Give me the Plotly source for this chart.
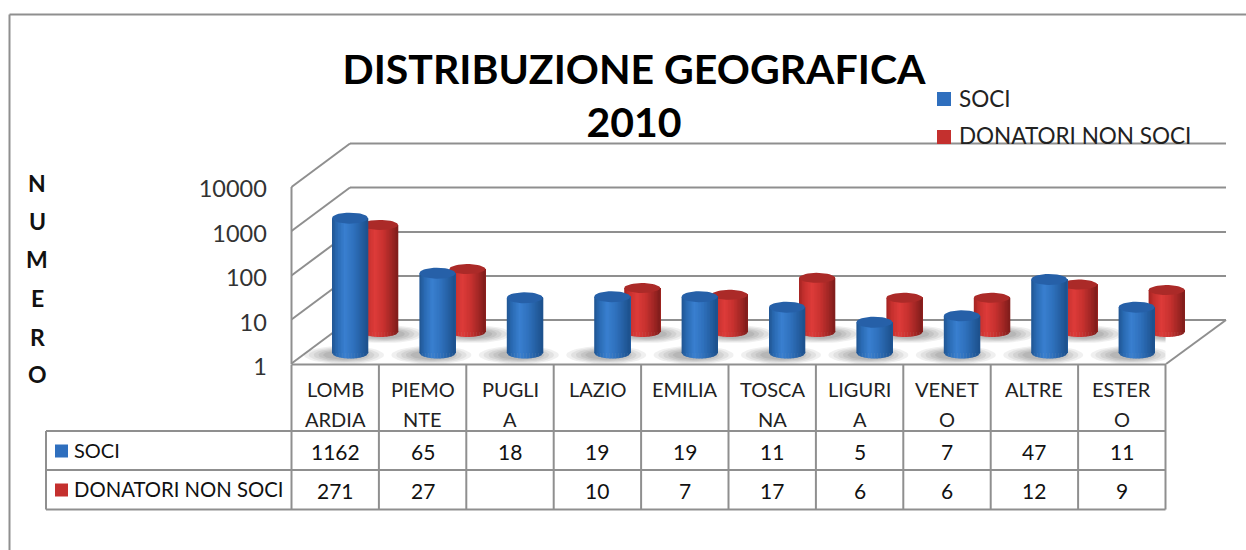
import numpy as np
import plotly.graph_objects as go

categories = ["LOMBARDIA", "PIEMONTE", "PUGLIA", "LAZIO", "EMILIA", "TOSCANA", "LIGURIA", "VENETO", "ALTRE", "ESTERO"]
category_lines = [["LOMB", "ARDIA"], ["PIEMO", "NTE"], ["PUGLI", "A"], ["LAZIO", ""], ["EMILIA", ""],
                  ["TOSCA", "NA"], ["LIGURI", "A"], ["VENET", "O"], ["ALTRE", ""], ["ESTER", "O"]]
soci = [1162, 65, 18, 19, 19, 11, 5, 7, 47, 11]
donatori = [271, 27, None, 10, 7, 17, 6, 6, 12, 9]
tick_values = [1, 10, 100, 1000, 10000]
tick_labels = ["1", "10", "100", "1000", "10000"]
axis_letters = list("NUMERO")
axis_letter_y = [183, 221, 259, 298, 337, 374]

W, H = 1246, 550
FONT = "Lato"
GRID = "#8f8f8f"
STEP = 87.4
DEC = 44.0
BAR_W = 36
STRIPS = 24
BLUE_STOPS = [(0.0, (34, 88, 150)), (0.12, (42, 106, 178)), (0.35, (58, 128, 208)), (0.6, (48, 114, 190)),
              (0.85, (36, 94, 160)), (1.0, (30, 82, 142))]
RED_STOPS = [(0.0, (168, 38, 36)), (0.12, (196, 48, 46)), (0.35, (222, 60, 58)), (0.6, (200, 50, 48)),
             (0.85, (158, 38, 36)), (1.0, (130, 30, 28))]
BLUE_TOP, RED_TOP = "#2660a8", "#ab2a28"


def ramp(stops, n):
    pos = [s[0] for s in stops]
    out = []
    for t in np.linspace(0, 1, n):
        rgb = [int(np.interp(t, pos, [s[1][c] for s in stops])) for c in range(3)]
        out.append("rgb(%d,%d,%d)" % tuple(rgb))
    return out


idx = np.arange(len(categories))
px, py = (lambda v: v / W), (lambda v: 1 - v / H)


def seg(x0, y0, x1, y1, width=2, color=GRID):
    return dict(type="line", xref="paper", yref="paper", x0=px(x0), y0=py(y0), x1=px(x1), y1=py(y1),
                line=dict(color=color, width=width), layer="below")


shapes = []
# back wall gridlines, side wall and floor
for back_y in [143.5, 187.5, 232, 276, 320]:
    shapes.append(seg(350, back_y, 1226, back_y))
    shapes.append(seg(291.5, back_y + 43.5, 350, back_y))
shapes += [seg(291.5, 187, 291.5, 364), seg(291.5, 364.5, 1166, 364.5), seg(1166, 364, 1226, 320)]
# data table grid
for k in range(11):
    shapes.append(seg(291.5 + STEP * k, 364.5, 291.5 + STEP * k, 509.5))
for y in [431, 470, 509.5]:
    shapes.append(seg(46, y, 291.5 + STEP * 10, y))
shapes.append(seg(46, 431, 46, 509.5))
# chart frame
shapes += [seg(9.5, 14.5, 1246, 14.5), seg(9.5, 14.5, 9.5, 550)]


def v_domain(base_px):
    return [py(base_px + 0.5 * DEC), py(base_px - 4.5 * DEC)]


def h_domain(center_px):
    return [px(center_px - STEP / 2), px(center_px + 9.5 * STEP)]


BACK_BASE, FRONT_BASE = 332.0, 353.0
BACK_X, FRONT_X = 380.0, 350.0

fig = go.Figure()

# floor shadows on the wall axes (scale: category units and label-axis decades)
wall_left, wall_y1, wall_dec = 291.5, 367.0, 44.5


def ellipse(cx, cy, rx, ry, half=False):
    t = np.linspace(0, np.pi if half else 2 * np.pi, 40)
    return cx + rx * np.cos(t), cy + ry * np.sin(t)


def shadow_xy(series, center0, base_px, dx, dy, rx, ry):
    xs, ys = [], []
    for i, v in enumerate(series):
        if v is None:
            continue
        ex, ey = ellipse(center0 + STEP * i + dx, base_px + dy, rx, ry)
        xs += list((ex - wall_left) / STEP - 0.5) + [None]
        ys += list(10 ** ((wall_y1 - ey) / wall_dec)) + [None]
    return xs, ys


for scale, alpha in [(1.0, 0.10), (0.88, 0.11), (0.76, 0.12), (0.64, 0.14), (0.52, 0.16)]:
    for series, c0, b, dx, dy in [(donatori, BACK_X, BACK_BASE, 4, 2), (soci, FRONT_X, FRONT_BASE, -6, 2)]:
        xs, ys = shadow_xy(series, c0, b, dx, dy, 40 * scale, 9 * scale)
        fig.add_trace(go.Scatter(x=xs, y=ys, mode="lines", line=dict(width=0), fill="toself",
                                 fillcolor=f"rgba(110,110,110,{alpha})", hoverinfo="skip", showlegend=False,
                                 xaxis="x", yaxis="y"))


def add_cylinders(values, name, stops, top_color, xa, ya, ry):
    colors = ramp(stops, STRIPS)
    n = len(colors)
    width = BAR_W / STEP
    shown = [None if v is None else v - 1 for v in values]
    for k, col in enumerate(colors):
        start = -width / 2 + width * k / n
        fig.add_trace(go.Bar(x=idx, y=shown, base=1, width=width * (n - k) / n, offset=start,
                             marker=dict(color=col, line=dict(width=0)), name=name, showlegend=False,
                             xaxis=xa, yaxis=ya, hoverinfo="skip" if k else "x+y"))
    # rounded bottom: one filled sliver per strip, left to right; flat top cap
    t = (np.arange(n + 1) / n) * 2 - 1
    for k, col in enumerate(colors):
        xs, ys = [], []
        a, b = t[k], t[k + 1]
        drop_a, drop_b = ry * np.sqrt(1 - a * a), ry * np.sqrt(1 - b * b)
        for i, v in enumerate(values):
            if v is None:
                continue
            xs += [i + a * BAR_W / 2 / STEP, i + (b + 0.02) * BAR_W / 2 / STEP, i + (b + 0.02) * BAR_W / 2 / STEP,
                   i + a * BAR_W / 2 / STEP, None]
            ys += [10 ** (0.5 / DEC), 10 ** (0.5 / DEC), 10 ** (-drop_b / DEC), 10 ** (-drop_a / DEC), None]
        fig.add_trace(go.Scatter(x=xs, y=ys, mode="lines", line=dict(width=0), fill="toself", fillcolor=col,
                                 hoverinfo="skip", showlegend=False, xaxis=xa, yaxis=ya))
    xs, ys = [], []
    for i, v in enumerate(values):
        if v is None:
            continue
        ex, ey = ellipse(0, 0, BAR_W / 2, ry)
        xs += list(i + ex / STEP) + [None]
        ys += list(v * 10 ** (-ey / DEC)) + [None]
    fig.add_trace(go.Scatter(x=xs, y=ys, mode="lines", line=dict(width=0), fill="toself", fillcolor=top_color,
                             hoverinfo="skip", showlegend=False, xaxis=xa, yaxis=ya))


add_cylinders(donatori, "DONATORI NON SOCI", RED_STOPS, RED_TOP, "x2", "y2", 5.0)
add_cylinders(soci, "SOCI", BLUE_STOPS, BLUE_TOP, "x3", "y3", 5.5)

hidden = dict(visible=False, fixedrange=True)
fig.update_layout(
    width=W, height=H, margin=dict(l=0, r=0, t=0, b=0, autoexpand=False), autosize=False,
    paper_bgcolor="white", plot_bgcolor="rgba(0,0,0,0)",
    barmode="overlay", showlegend=False, shapes=shapes,
    font=dict(family=FONT, color="#222222"),
    title=dict(text="<b>DISTRIBUZIONE GEOGRAFICA<br>2010</b>", x=634 / W, xanchor="center",
               y=py(84), yanchor="top", font=dict(family=FONT, size=41, color="#000000")),
    xaxis=dict(domain=[px(wall_left), px(wall_left + 10 * STEP)], range=[-0.5, 9.5], visible=False, fixedrange=True),
    yaxis=dict(domain=[py(wall_y1), py(wall_y1 - 4 * wall_dec)], type="log", range=[0, 4], anchor="x",
               tickvals=tick_values, ticktext=tick_labels, showgrid=False, zeroline=False, showline=False,
               ticks="outside", ticklen=19, tickcolor="rgba(0,0,0,0)", fixedrange=True,
               tickfont=dict(family=FONT, size=23.5, color="#333333")),
    xaxis2=dict(domain=h_domain(BACK_X), range=[-0.5, 9.5], anchor="y2", **hidden),
    yaxis2=dict(domain=v_domain(BACK_BASE), type="log", range=[-0.5, 4.5], anchor="x2", **hidden),
    xaxis3=dict(domain=h_domain(FRONT_X), range=[-0.5, 9.5], anchor="y3", **hidden),
    yaxis3=dict(domain=v_domain(FRONT_BASE), type="log", range=[-0.5, 4.5], anchor="x3", **hidden),
)


def label(x, y, text, size=20, xanchor="center", color="#222222", bold=False):
    fig.add_annotation(xref="paper", yref="paper", x=px(x), y=py(y), text=f"<b>{text}</b>" if bold else text,
                       showarrow=False, xanchor=xanchor, yanchor="middle", align="center",
                       font=dict(family=FONT, size=size, color=color), borderpad=0)


def key(x, y, size, color):
    fig.add_shape(type="rect", xref="paper", yref="paper", x0=px(x), x1=px(x + size), y0=py(y - size / 2),
                  y1=py(y + size / 2), fillcolor=color, line=dict(width=0))


for letter, y in zip(axis_letters, axis_letter_y):
    label(37, y, letter, size=23, color="#111111", bold=True)

# legend
key(937, 99, 14, "#2f6fbe")
key(937, 137, 14, "#c4302e")
label(958, 99, "SOCI", size=22.5, xanchor="left")
label(958, 135, "DONATORI NON SOCI", size=22.5, xanchor="left")

# data table
for i, lines in enumerate(category_lines):
    cx = 291.5 + STEP * (i + 0.5)
    label(cx, 389, lines[0], size=20)
    if lines[1]:
        label(cx, 419, lines[1], size=20)
    label(cx, 451, str(soci[i]), size=21, color="#111111")
    if donatori[i] is not None:
        label(cx, 490, str(donatori[i]), size=21, color="#111111")
key(55, 451, 13, "#2f6fbe")
key(55, 490, 13, "#c4302e")
label(73, 450, "SOCI", size=20, xanchor="left", color="#111111")
label(73, 489, "DONATORI NON SOCI", size=20.3, xanchor="left", color="#111111")

fig.write_html("out.html", post_script="document.body.style.margin='0';document.body.style.overflow='hidden';",
               config=dict(displayModeBar=False))
